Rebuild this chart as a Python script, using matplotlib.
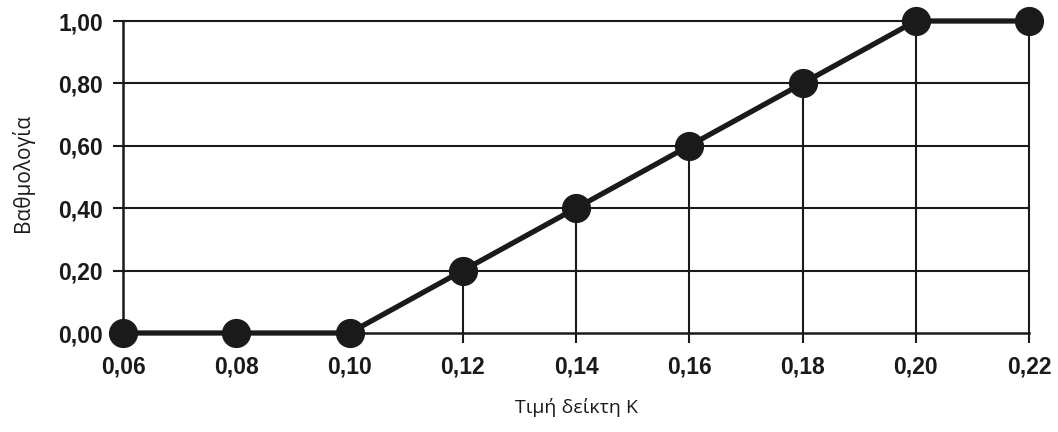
import matplotlib
matplotlib.use("Agg")
import matplotlib.pyplot as plt
from matplotlib.ticker import FixedLocator

x_values = [0.06, 0.08, 0.10, 0.12, 0.14, 0.16, 0.18, 0.20, 0.22]
scores = [0.00, 0.00, 0.00, 0.20, 0.40, 0.60, 0.80, 1.00, 1.00]
x_tick_labels = ["0,06", "0,08", "0,10", "0,12", "0,14", "0,16", "0,18", "0,20", "0,22"]
y_ticks = [0.0, 0.2, 0.4, 0.6, 0.8, 1.0]
y_tick_labels = ["0,00", "0,20", "0,40", "0,60", "0,80", "1,00"]

C = "#1a1a1a"
fig = plt.figure(figsize=(10.58, 4.32), dpi=100)
ax = fig.add_axes([123/1058, 1-333/432, (1029-123)/1058, (333-21)/432])
ax.set_xlim(0.06, 0.22)
ax.set_ylim(0, 1)

for yv in y_ticks[1:]:
    ax.plot([0.06, 0.22], [yv, yv], color=C, lw=1.5, zorder=1, clip_on=False)
for xv, yv in zip(x_values, scores):
    ax.plot([xv, xv], [0, yv], color=C, lw=1.5, zorder=1, clip_on=False)

ax.plot(x_values, scores, color=C, lw=3.8, marker="o", markersize=20,
        markerfacecolor=C, markeredgecolor=C, zorder=3, clip_on=False)

for s in ["top", "right"]:
    ax.spines[s].set_visible(False)
for s in ["left", "bottom"]:
    ax.spines[s].set_color(C)
    ax.spines[s].set_linewidth(1.8)

ax.xaxis.set_major_locator(FixedLocator(x_values))
ax.set_xticklabels(x_tick_labels)
ax.yaxis.set_major_locator(FixedLocator(y_ticks))
ax.set_yticklabels(y_tick_labels)
ax.tick_params(axis="both", direction="out", length=7, width=1.5, color=C,
               labelsize=16.5, labelcolor=C)
ax.tick_params(axis="x", pad=9)
ax.tick_params(axis="y", pad=7.5)
for lbl in ax.get_xticklabels() + ax.get_yticklabels():
    lbl.set_fontfamily("Liberation Sans")
    lbl.set_fontweight("bold")

ax.set_xlabel("Τιμή δείκτη Κ", fontsize=14, family="Open Sans", color=C)
ax.set_ylabel("Βαθμολογία", fontsize=15, family="Open Sans", color=C)
ax.xaxis.set_label_coords(0.5, (333 - 398) / 312)
ax.yaxis.set_label_coords((34 - 123) / 906, (333 - 173) / 312)
fig.savefig("out.png", dpi=100)
